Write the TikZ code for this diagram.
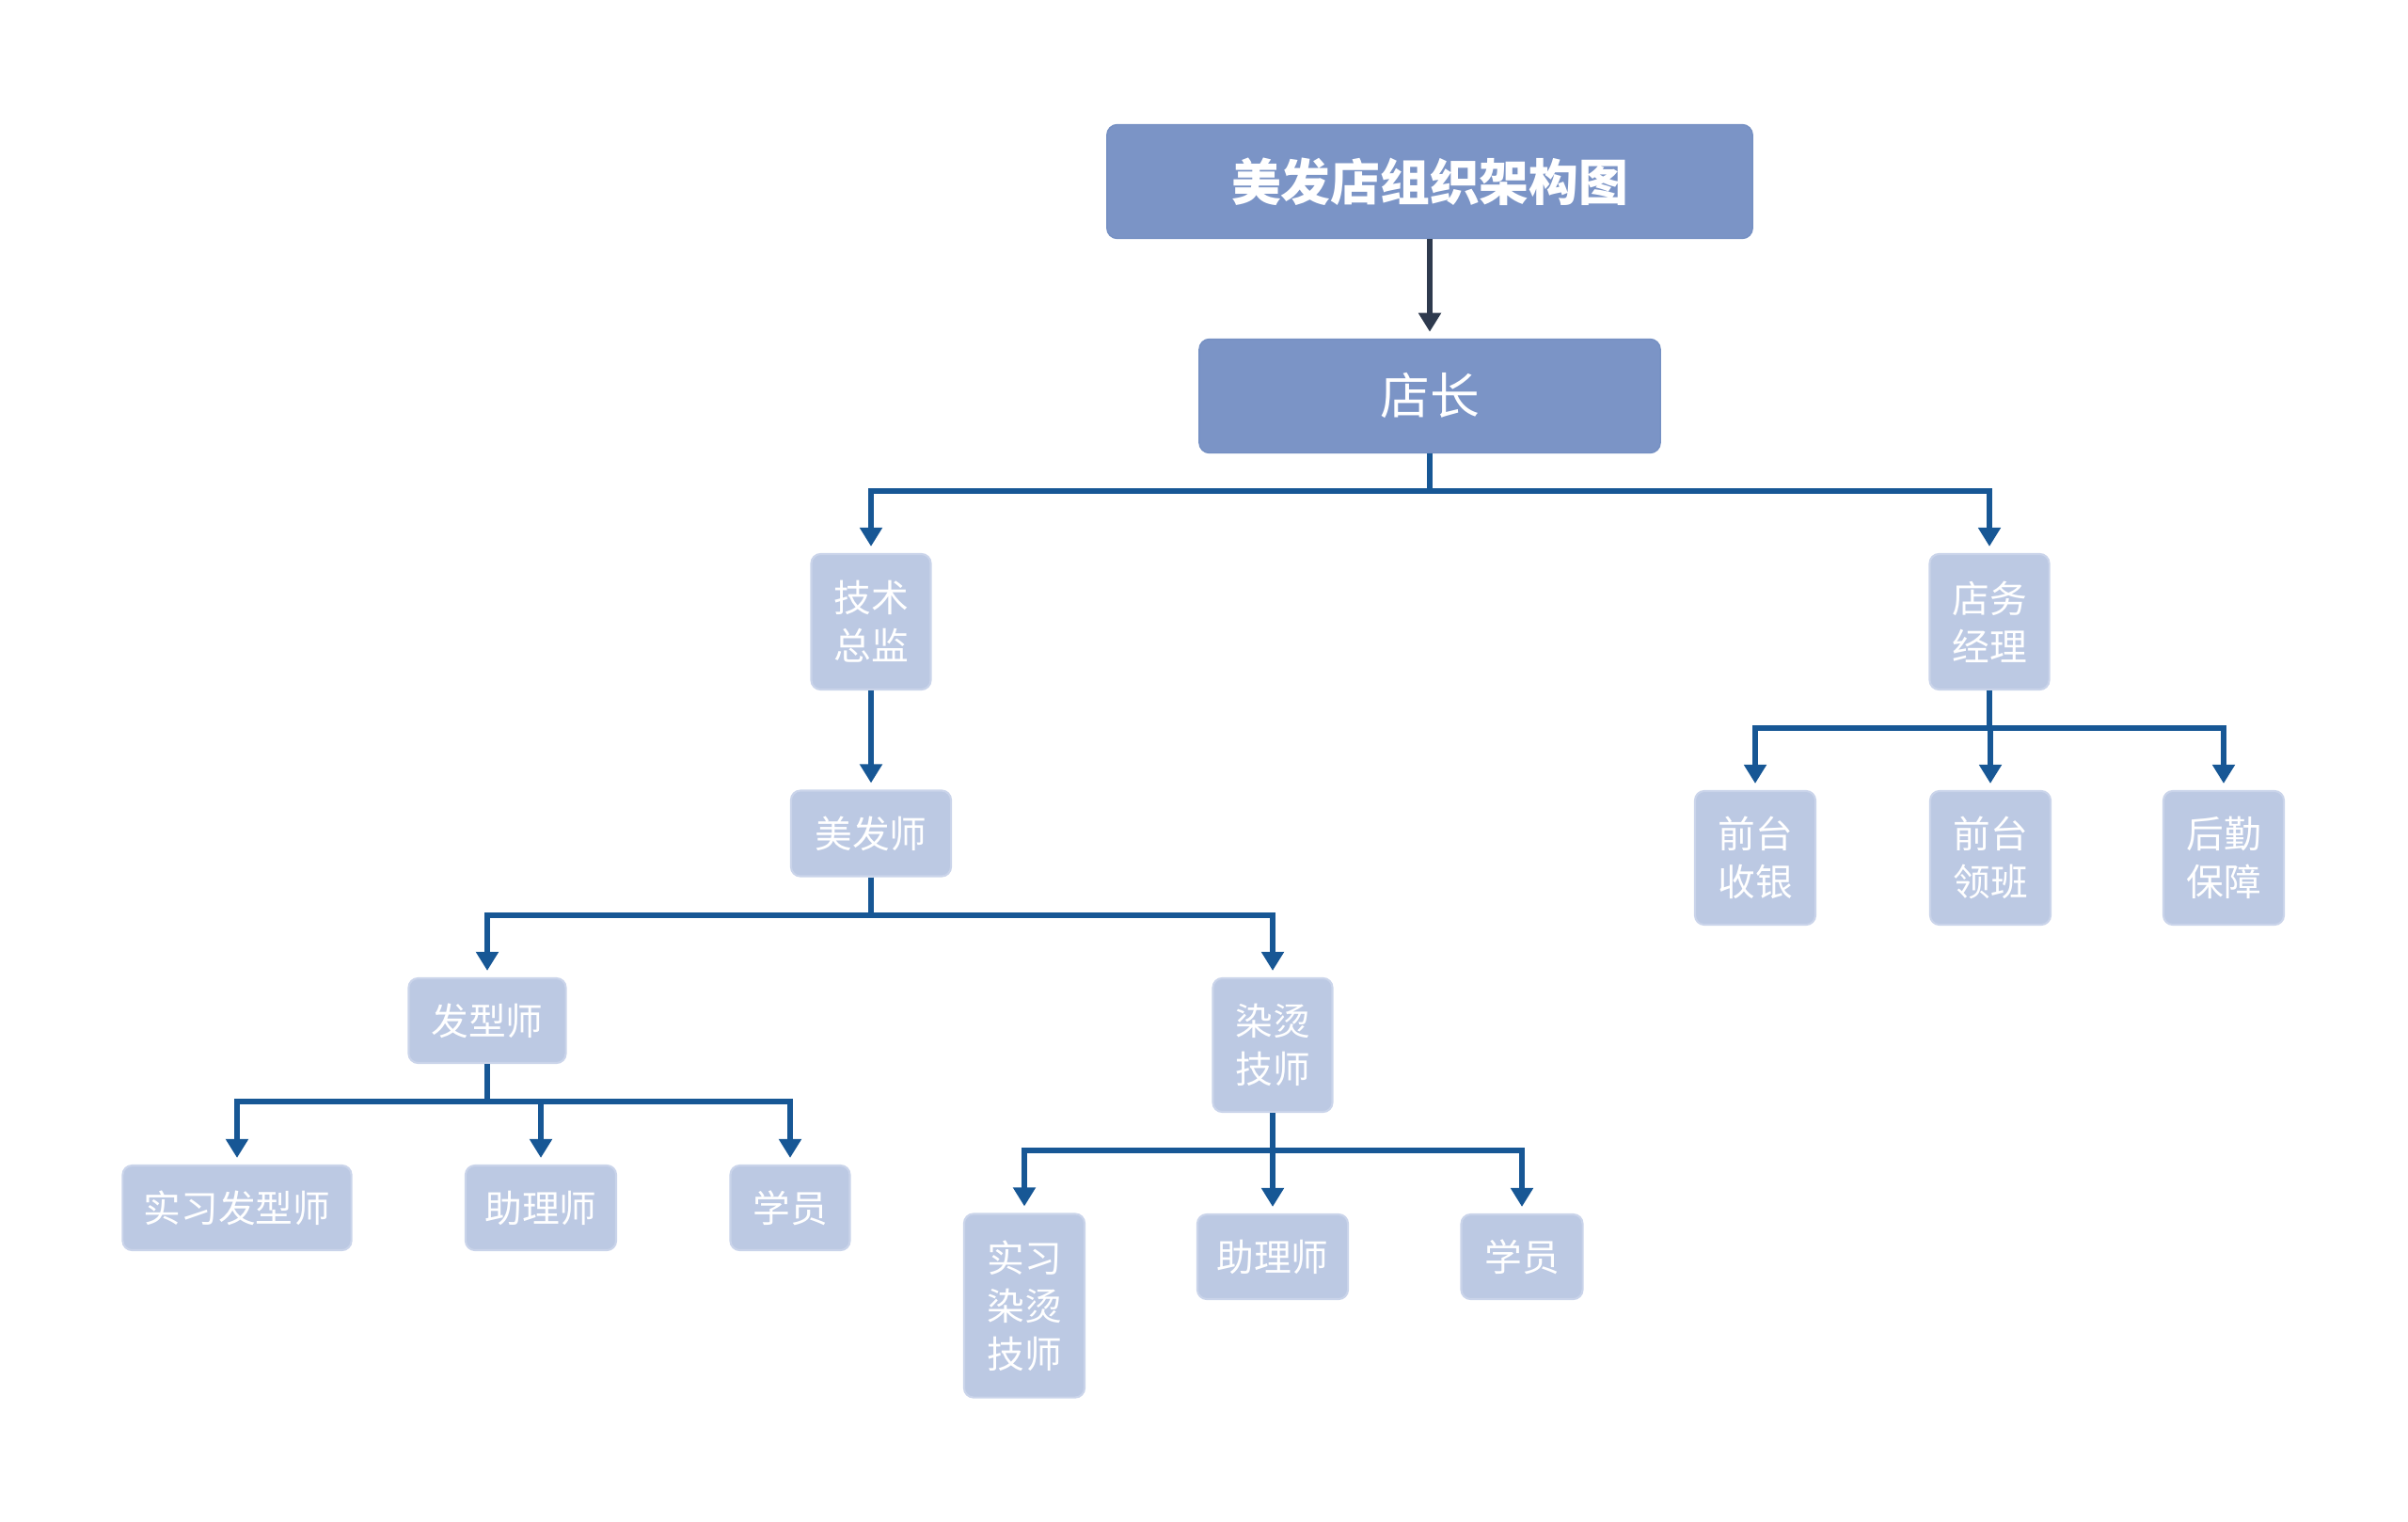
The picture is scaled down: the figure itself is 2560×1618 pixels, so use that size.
\documentclass[tikz,border=0pt]{standalone}
\usepackage{fontspec}
\newfontfamily\cjk{Noto Sans CJK SC}
\usepackage{xcolor}
\usetikzlibrary{arrows.meta,positioning,calc}
\definecolor{headblue}{HTML}{7B94C6}
\definecolor{headline}{HTML}{7590C3}
\definecolor{boxblue}{HTML}{BCC9E3}
\definecolor{boxline}{HTML}{CAD4EA}
\definecolor{linkblue}{HTML}{175795}
\definecolor{topgray}{HTML}{2E3A4E}

\begin{document}
\begin{tikzpicture}[
  x=0.01cm,y=-0.01cm,
  >={Triangle[length=2mm,width=2.3mm]},
  head/.style={draw=headline,fill=headblue,rounded corners=1.1mm,text=white,inner sep=0pt,
    font=\cjk\fontsize{15}{18}\selectfont},
  box/.style={draw=boxline,line width=0.6pt,fill=boxblue,rounded corners=1mm,text=white,
    inner sep=0pt,align=center,font=\cjk\fontsize{11.3}{14.5}\selectfont},
  conn/.style={->,draw=linkblue,line width=1.7pt,shorten >=0.7mm}
]
\useasboundingbox (0,0) rectangle (2560,1618);
% top of the chart
\node[head,minimum width=6.86cm,minimum height=1.21cm] (title) at (1520,193) {\bfseries 美发店组织架构图};
\node[head,minimum width=4.90cm,minimum height=1.21cm] (dz) at (1520,421) {店长};
\draw[->,draw=topgray,line width=1.5pt,shorten >=0.7mm] (title) -- (dz);
% second level
\node[box,minimum width=1.27cm,minimum height=1.44cm] (jszj) at (926,661) {技术\\总监};
\node[box,minimum width=1.27cm,minimum height=1.44cm] (dwjl) at (2115,661) {店务\\经理};
\coordinate (b1) at (1520,522);
\draw[conn] (dz.south) -- (b1) -| (jszj.north);
\draw[conn] (dz.south) -- (b1) -| (dwjl.north);
% shop side
\node[box,minimum width=1.28cm,minimum height=1.42cm] (qtsy) at (1866,912) {前台\\收银};
\node[box,minimum width=1.28cm,minimum height=1.42cm] (qtlb) at (2116,912) {前台\\领班};
\node[box,minimum width=1.28cm,minimum height=1.42cm] (hqbz) at (2364,912) {后勤\\保障};
\coordinate (b2) at (2115,774);
\foreach \n in {qtsy,qtlb,hqbz}
  \draw[conn] (dwjl.south) -- (b2) -| (\n.north);
% technical side
\node[box,minimum width=1.70cm,minimum height=0.91cm] (mfs) at (926,886) {美发师};
\draw[conn] (jszj) -- (mfs);
\node[box,minimum width=1.67cm,minimum height=0.90cm] (fxs) at (518,1085) {发型师};
\node[box,minimum width=1.27cm,minimum height=1.42cm] (rtjs) at (1353,1111) {染烫\\技师};
\coordinate (b3) at (926,973);
\draw[conn] (mfs.south) -- (b3) -| (fxs.north);
\draw[conn] (mfs.south) -- (b3) -| (rtjs.north);
% under 发型师
\node[box,minimum width=2.43cm,minimum height=0.90cm] (sxfxs) at (252,1284) {实习发型师};
\node[box,minimum width=1.60cm,minimum height=0.90cm] (zls1) at (575,1284) {助理师};
\node[box,minimum width=1.27cm,minimum height=0.90cm] (xy1) at (840,1284) {学员};
\coordinate (b4) at (518,1171);
\foreach \n in {sxfxs,zls1,xy1}
  \draw[conn] (fxs.south) -- (b4) -| (\n.north);
% under 染烫技师
\node[box,minimum width=1.28cm,minimum height=1.95cm] (sxrt) at (1089,1388) {实习\\染烫\\技师};
\node[box,minimum width=1.60cm,minimum height=0.90cm] (zls2) at (1353,1336) {助理师};
\node[box,minimum width=1.29cm,minimum height=0.90cm] (xy2) at (1618,1336) {学员};
\coordinate (b5) at (1353,1223);
\foreach \n in {sxrt,zls2,xy2}
  \draw[conn] (rtjs.south) -- (b5) -| (\n.north);
\end{tikzpicture}
\end{document}
